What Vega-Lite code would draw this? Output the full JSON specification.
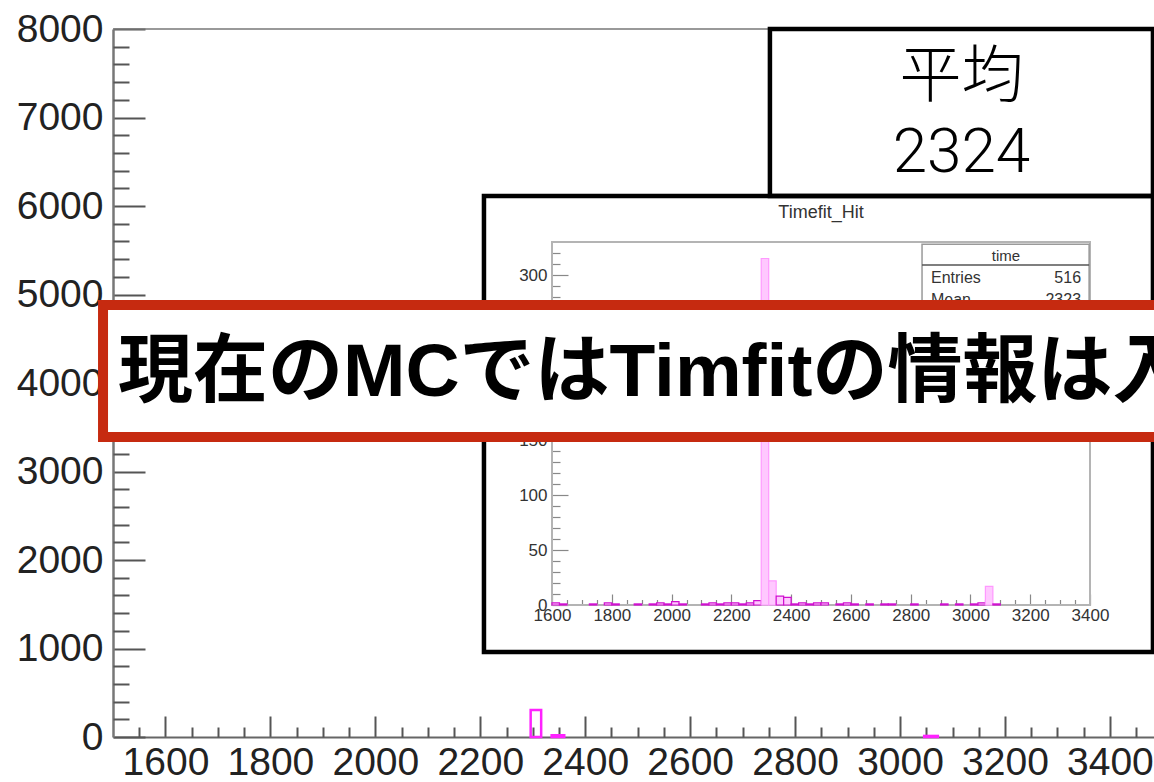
{
  "$schema": "https://vega.github.io/schema/vega-lite/v6.json",
  "width": 1041,
  "height": 708,
  "autosize": {"type": "none"},
  "padding": {"left": 113, "top": 29, "right": 0, "bottom": 45},
  "background": "white",
  "config": {
    "view": {"stroke": null},
    "axis": {"grid": false, "labelFont": "Liberation Sans"}
  },
  "data": {"values": [{}]},
  "datasets": {
    "mainHist": [
      {"lo": 2296, "hi": 2316, "n": 305},
      {"lo": 2336, "hi": 2360, "n": 20},
      {"lo": 3046, "hi": 3072, "n": 12}
    ],
    "timefitHit": [
      {"lo": 1600, "hi": 1625, "n": 2},
      {"lo": 1625, "hi": 1650, "n": 1},
      {"lo": 1725, "hi": 1750, "n": 1},
      {"lo": 1775, "hi": 1800, "n": 2},
      {"lo": 1800, "hi": 1825, "n": 1},
      {"lo": 1875, "hi": 1900, "n": 1},
      {"lo": 1925, "hi": 1950, "n": 1},
      {"lo": 1950, "hi": 1975, "n": 2},
      {"lo": 1975, "hi": 2000, "n": 1},
      {"lo": 2000, "hi": 2025, "n": 3},
      {"lo": 2025, "hi": 2050, "n": 1},
      {"lo": 2100, "hi": 2125, "n": 1},
      {"lo": 2125, "hi": 2150, "n": 2},
      {"lo": 2150, "hi": 2175, "n": 1},
      {"lo": 2175, "hi": 2200, "n": 2},
      {"lo": 2200, "hi": 2225, "n": 2},
      {"lo": 2225, "hi": 2250, "n": 1},
      {"lo": 2250, "hi": 2275, "n": 2},
      {"lo": 2275, "hi": 2300, "n": 4},
      {"lo": 2300, "hi": 2325, "n": 315},
      {"lo": 2325, "hi": 2350, "n": 22},
      {"lo": 2350, "hi": 2375, "n": 8},
      {"lo": 2375, "hi": 2400, "n": 7},
      {"lo": 2400, "hi": 2425, "n": 1},
      {"lo": 2425, "hi": 2450, "n": 2},
      {"lo": 2450, "hi": 2475, "n": 1},
      {"lo": 2475, "hi": 2500, "n": 2},
      {"lo": 2500, "hi": 2525, "n": 2},
      {"lo": 2550, "hi": 2575, "n": 1},
      {"lo": 2575, "hi": 2600, "n": 2},
      {"lo": 2600, "hi": 2625, "n": 1},
      {"lo": 2650, "hi": 2675, "n": 1},
      {"lo": 2700, "hi": 2725, "n": 1},
      {"lo": 2725, "hi": 2750, "n": 1},
      {"lo": 2800, "hi": 2825, "n": 1},
      {"lo": 2900, "hi": 2925, "n": 1},
      {"lo": 2950, "hi": 2975, "n": 1},
      {"lo": 3000, "hi": 3025, "n": 1},
      {"lo": 3025, "hi": 3050, "n": 2},
      {"lo": 3050, "hi": 3075, "n": 17},
      {"lo": 3075, "hi": 3100, "n": 1}
    ]
  },
  "layer": [
    {
      "mark": {"type": "rule", "color": "#777777", "strokeWidth": 1.5},
      "encoding": {
        "y": {"datum": 8000, "type": "quantitative", "scale": {"domain": [0, 8000], "nice": false, "zero": false}, "axis": null}
      }
    },
    {
      "data": {"name": "mainHist"},
      "mark": {"type": "rect", "filled": false, "stroke": "#ff22ff", "strokeWidth": 2.5},
      "encoding": {
        "x": {
          "field": "lo", "type": "quantitative",
          "scale": {"domain": [1500, 3484], "nice": false, "zero": false},
          "axis": {
            "orient": "bottom", "title": null,
            "values": [1600, 1800, 2000, 2200, 2400, 2600, 2800, 3000, 3200, 3400],
            "format": "d",
            "tickSize": -21, "tickColor": "#555555", "tickWidth": 2,
            "domainColor": "#666666", "domainWidth": 2,
            "labelFontSize": 39, "labelColor": "#222222", "labelPadding": 27,
            "labelOverlap": false, "labelFlush": false, "labelBound": false
          }
        },
        "x2": {"field": "hi"},
        "y": {
          "field": "n", "type": "quantitative",
          "scale": {"domain": [0, 8000], "nice": false, "zero": false},
          "axis": {
            "orient": "left", "title": null,
            "values": [0, 1000, 2000, 3000, 4000, 5000, 6000, 7000, 8000],
            "format": "d",
            "tickSize": -32, "tickColor": "#555555", "tickWidth": 2,
            "domainColor": "#777777", "domainWidth": 2.5,
            "labelFontSize": 39, "labelColor": "#222222", "labelPadding": 42,
            "labelOverlap": false, "labelFlush": false, "labelBound": false
          }
        },
        "y2": {"datum": 0}
      }
    },
    {
      "mark": {"type": "rect", "filled": false, "stroke": "black", "strokeWidth": 4.5},
      "encoding": {
        "x": {
          "datum": 2752, "type": "quantitative",
          "scale": {"domain": [1500, 3484], "nice": false, "zero": false},
          "axis": {
            "orient": "bottom", "title": null, "domain": false, "labels": false,
            "values": [1550, 1650, 1700, 1750, 1850, 1900, 1950, 2050, 2100, 2150, 2250, 2300, 2350, 2450, 2500, 2550, 2650, 2700, 2750, 2850, 2900, 2950, 3050, 3100, 3150, 3250, 3300, 3350, 3450],
            "tickSize": -10, "tickColor": "#555555", "tickWidth": 2
          }
        },
        "x2": {"datum": 3482},
        "y": {
          "datum": 8000, "type": "quantitative",
          "scale": {"domain": [0, 8000], "nice": false, "zero": false},
          "axis": {
            "orient": "left", "title": null, "domain": false, "labels": false,
            "values": [200, 400, 600, 800, 1200, 1400, 1600, 1800, 2200, 2400, 2600, 2800, 3200, 3400, 3600, 3800, 4200, 4400, 4600, 4800, 5200, 5400, 5600, 5800, 6200, 6400, 6600, 6800, 7200, 7400, 7600, 7800],
            "tickSize": -16, "tickColor": "#555555", "tickWidth": 2
          }
        },
        "y2": {"datum": 6113}
      }
    },
    {
      "mark": {"type": "text", "lineBreak": "\n", "lineHeight": 75, "align": "center", "baseline": "middle", "font": "Roboto, Noto Sans CJK JP", "fontWeight": 300, "fontSize": 62, "color": "black"},
      "encoding": {
        "x": {"datum": 3117, "type": "quantitative", "scale": {"domain": [1500, 3484], "nice": false, "zero": false}, "axis": null},
        "y": {"datum": 7446, "type": "quantitative", "scale": {"domain": [0, 8000], "nice": false, "zero": false}, "axis": null},
        "text": {"value": "平均\n2324"}
      }
    },
    {
      "mark": {"type": "rect", "filled": false, "stroke": "black", "strokeWidth": 4.5},
      "encoding": {
        "x": {"datum": 2207, "type": "quantitative", "scale": {"domain": [1500, 3484], "nice": false, "zero": false}, "axis": null},
        "x2": {"datum": 3482},
        "y": {"datum": 6113, "type": "quantitative", "scale": {"domain": [0, 8000], "nice": false, "zero": false}, "axis": null},
        "y2": {"datum": 960}
      }
    },
    {
      "mark": {"type": "rect", "filled": false, "stroke": "#b4b4b4", "strokeWidth": 2},
      "encoding": {
        "x": {
          "datum": 1600, "type": "quantitative",
          "scale": {"domain": [131.2, 3614.1], "nice": false, "zero": false},
          "axis": {
            "orient": "bottom", "offset": -132, "title": null, "domain": false, "labels": false,
            "values": [1650, 1700, 1750, 1850, 1900, 1950, 2050, 2100, 2150, 2250, 2300, 2350, 2450, 2500, 2550, 2650, 2700, 2750, 2850, 2900, 2950, 3050, 3100, 3150, 3250, 3300, 3350],
            "tickSize": -5.5, "tickColor": "#888888", "tickWidth": 1.2
          }
        },
        "x2": {"datum": 3400},
        "y": {
          "datum": 0, "type": "quantitative",
          "scale": {"domain": [-120, 523.64], "nice": false, "zero": false},
          "axis": {
            "orient": "left", "offset": -439, "title": null, "domain": false, "labels": false,
            "values": [10, 20, 30, 40, 60, 70, 80, 90, 110, 120, 130, 140, 160, 170, 180, 190, 210, 220, 230, 240, 260, 270, 280, 290, 310, 320],
            "tickSize": -8, "tickColor": "#888888", "tickWidth": 1.2
          }
        },
        "y2": {"datum": 330}
      }
    },
    {
      "data": {"name": "timefitHit"},
      "mark": {"type": "rect", "fill": "#ffc8ff", "strokeWidth": 1.2},
      "encoding": {
        "x": {
          "field": "lo", "type": "quantitative",
          "scale": {"domain": [131.2, 3614.1], "nice": false, "zero": false},
          "axis": {
            "orient": "bottom", "offset": -132, "title": null, "domain": false,
            "values": [1600, 1800, 2000, 2200, 2400, 2600, 2800, 3000, 3200, 3400],
            "format": "d",
            "tickSize": -11, "tickColor": "#888888", "tickWidth": 1.2,
            "labelFontSize": 17, "labelColor": "#333333", "labelPadding": 13,
            "labelOverlap": false, "labelFlush": false, "labelBound": false
          }
        },
        "x2": {"field": "hi"},
        "y": {
          "field": "n", "type": "quantitative",
          "scale": {"domain": [-120, 523.64], "nice": false, "zero": false},
          "axis": {
            "orient": "left", "offset": -439, "title": null, "domain": false,
            "values": [0, 50, 100, 150, 200, 250, 300],
            "format": "d",
            "tickSize": -16, "tickColor": "#888888", "tickWidth": 1.2,
            "labelFontSize": 17, "labelColor": "#333333", "labelPadding": 21,
            "labelOverlap": false, "labelFlush": false, "labelBound": false
          }
        },
        "y2": {"datum": 0},
        "stroke": {"condition": {"test": "datum.n > 10", "value": "#ff99ff"}, "value": "#d010d0"}
      }
    },
    {
      "mark": {"type": "rect", "filled": false, "stroke": "#9a9a9a", "strokeWidth": 1.5},
      "encoding": {
        "x": {"datum": 2838, "type": "quantitative", "scale": {"domain": [131.2, 3614.1], "nice": false, "zero": false}, "axis": null},
        "x2": {"datum": 3397},
        "y": {"datum": 328, "type": "quantitative", "scale": {"domain": [-120, 523.64], "nice": false, "zero": false}, "axis": null},
        "y2": {"datum": 200}
      }
    },
    {
      "mark": {"type": "rule", "color": "#555555", "strokeWidth": 1.5},
      "encoding": {
        "x": {"datum": 2838, "type": "quantitative", "scale": {"domain": [131.2, 3614.1], "nice": false, "zero": false}, "axis": null},
        "x2": {"datum": 3397},
        "y": {"datum": 309, "type": "quantitative", "scale": {"domain": [-120, 523.64], "nice": false, "zero": false}, "axis": null}
      }
    },
    {
      "mark": {"type": "text", "align": "center", "baseline": "middle", "font": "Liberation Sans", "fontSize": 15, "color": "#333333"},
      "encoding": {
        "x": {"datum": 3119, "type": "quantitative", "scale": {"domain": [131.2, 3614.1], "nice": false, "zero": false}, "axis": null},
        "y": {"datum": 317, "type": "quantitative", "scale": {"domain": [-120, 523.64], "nice": false, "zero": false}, "axis": null},
        "text": {"value": "time"}
      }
    },
    {
      "mark": {"type": "text", "align": "left", "baseline": "middle", "font": "Liberation Sans", "fontSize": 16, "color": "#333333"},
      "encoding": {
        "x": {"datum": 2868, "type": "quantitative", "scale": {"domain": [131.2, 3614.1], "nice": false, "zero": false}, "axis": null},
        "y": {"datum": 297, "type": "quantitative", "scale": {"domain": [-120, 523.64], "nice": false, "zero": false}, "axis": null},
        "text": {"value": "Entries"}
      }
    },
    {
      "mark": {"type": "text", "align": "right", "baseline": "middle", "font": "Liberation Sans", "fontSize": 16, "color": "#333333"},
      "encoding": {
        "x": {"datum": 3370, "type": "quantitative", "scale": {"domain": [131.2, 3614.1], "nice": false, "zero": false}, "axis": null},
        "y": {"datum": 297, "type": "quantitative", "scale": {"domain": [-120, 523.64], "nice": false, "zero": false}, "axis": null},
        "text": {"value": "516"}
      }
    },
    {
      "mark": {"type": "text", "align": "left", "baseline": "middle", "font": "Liberation Sans", "fontSize": 16, "color": "#333333"},
      "encoding": {
        "x": {"datum": 2868, "type": "quantitative", "scale": {"domain": [131.2, 3614.1], "nice": false, "zero": false}, "axis": null},
        "y": {"datum": 277, "type": "quantitative", "scale": {"domain": [-120, 523.64], "nice": false, "zero": false}, "axis": null},
        "text": {"value": "Mean"}
      }
    },
    {
      "mark": {"type": "text", "align": "right", "baseline": "middle", "font": "Liberation Sans", "fontSize": 16, "color": "#333333"},
      "encoding": {
        "x": {"datum": 3370, "type": "quantitative", "scale": {"domain": [131.2, 3614.1], "nice": false, "zero": false}, "axis": null},
        "y": {"datum": 277, "type": "quantitative", "scale": {"domain": [-120, 523.64], "nice": false, "zero": false}, "axis": null},
        "text": {"value": "2323"}
      }
    },
    {
      "mark": {"type": "text", "align": "center", "baseline": "middle", "font": "Liberation Sans", "fontSize": 18, "color": "#333333"},
      "encoding": {
        "x": {"datum": 2500, "type": "quantitative", "scale": {"domain": [131.2, 3614.1], "nice": false, "zero": false}, "axis": null},
        "y": {"datum": 356, "type": "quantitative", "scale": {"domain": [-120, 523.64], "nice": false, "zero": false}, "axis": null},
        "text": {"value": "Timefit_Hit"}
      }
    },
    {
      "mark": {"type": "rect", "fill": "white", "stroke": "#c62a10", "strokeWidth": 10},
      "encoding": {
        "x": {"datum": 1481, "type": "quantitative", "scale": {"domain": [1500, 3484], "nice": false, "zero": false}, "axis": null},
        "x2": {"datum": 3600},
        "y": {"datum": 4881, "type": "quantitative", "scale": {"domain": [0, 8000], "nice": false, "zero": false}, "axis": null},
        "y2": {"datum": 3390}
      }
    },
    {
      "mark": {"type": "text", "align": "left", "baseline": "middle", "font": "Liberation Sans, Noto Sans CJK JP", "fontWeight": "bold", "fontSize": 75, "color": "black"},
      "encoding": {
        "x": {"datum": 1509.5, "type": "quantitative", "scale": {"domain": [1500, 3484], "nice": false, "zero": false}, "axis": null},
        "y": {"datum": 4110, "type": "quantitative", "scale": {"domain": [0, 8000], "nice": false, "zero": false}, "axis": null},
        "text": {"value": "現在のMCではTimfitの情報は入っていない"}
      }
    }
  ],
  "resolve": {
    "scale": {"x": "independent", "y": "independent"},
    "axis": {"x": "independent", "y": "independent"}
  }
}
